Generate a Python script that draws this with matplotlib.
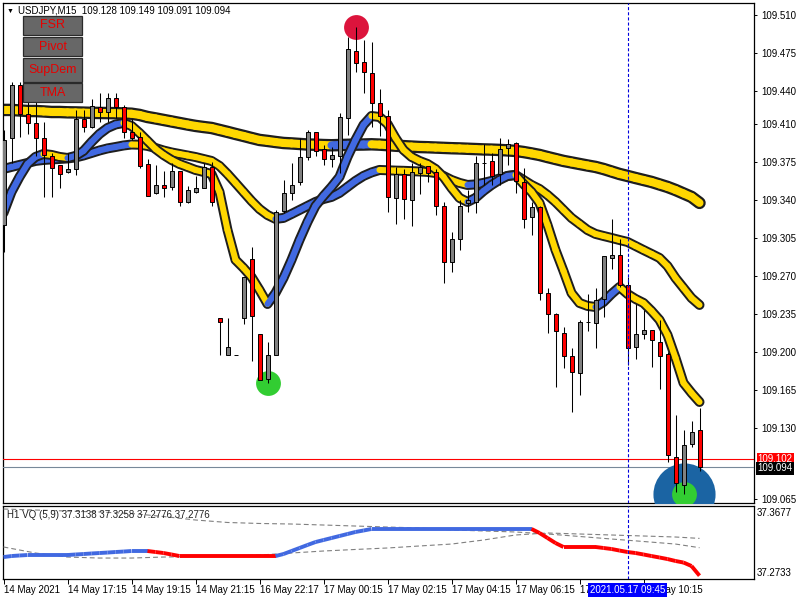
import matplotlib
matplotlib.use("Agg")
import matplotlib.pyplot as plt
from matplotlib.patches import Rectangle
from matplotlib.collections import LineCollection
import numpy as np

plt.rcParams['font.family'] = ['Liberation Sans', 'DejaVu Sans']
plt.rcParams['lines.scale_dashes'] = False

# ---------------- data ----------------
symbol = "USDJPY,M15"
opens = [109.317, 109.397, 109.446, 109.419, 109.411, 109.397, 109.380, 109.372, 109.366, 109.368,
         109.414, 109.407, 109.425, 109.421, 109.434, 109.425, 109.402, 109.398, 109.373, 109.346,
         109.354, 109.352, 109.367, 109.338, 109.347, 109.351, 109.370, 109.231, 109.197, 109.197,
         109.231, 109.286, 109.217, 109.175, 109.197, 109.330, 109.346, 109.356, 109.379, 109.402,
         109.387, 109.378, 109.380, 109.415, 109.477, 109.467, 109.457, 109.429, 109.417, 109.342,
         109.364, 109.340, 109.365, 109.371, 109.366, 109.334, 109.283, 109.304, 109.337, 109.338,
         109.374, 109.376, 109.364, 109.388, 109.392, 109.356, 109.324, 109.333, 109.254, 109.235,
         109.218, 109.196, 109.181, 109.228, 109.227, 109.249, 109.287, 109.289, 109.262, 109.205,
         109.217, 109.220, 109.209, 109.198, 109.104, 109.078, 109.116, 109.128]
highs = [109.404, 109.448, 109.448, 109.446, 109.443, 109.412, 109.383, 109.372, 109.383, 109.423,
         109.423, 109.433, 109.438, 109.438, 109.438, 109.427, 109.414, 109.402, 109.378, 109.372,
         109.367, 109.374, 109.367, 109.353, 109.362, 109.374, 109.375, 109.231, 109.231, 109.197,
         109.269, 109.297, 109.217, 109.209, 109.331, 109.358, 109.374, 109.397, 109.404, 109.402,
         109.390, 109.389, 109.420, 109.490, 109.499, 109.487, 109.485, 109.442, 109.423, 109.370,
         109.368, 109.374, 109.374, 109.371, 109.368, 109.338, 109.310, 109.340, 109.349, 109.380,
         109.391, 109.383, 109.397, 109.396, 109.393, 109.369, 109.338, 109.334, 109.259, 109.236,
         109.223, 109.204, 109.230, 109.253, 109.259, 109.288, 109.322, 109.304, 109.269, 109.244,
         109.239, 109.220, 109.230, 109.200, 109.142, 109.128, 109.137, 109.149]
lows = [109.292, 109.374, 109.398, 109.401, 109.380, 109.343, 109.343, 109.351, 109.365, 109.363,
        109.402, 109.406, 109.412, 109.412, 109.415, 109.397, 109.395, 109.369, 109.344, 109.345,
        109.343, 109.349, 109.334, 109.337, 109.346, 109.351, 109.334, 109.197, 109.197, 109.197,
        109.226, 109.192, 109.174, 109.172, 109.197, 109.328, 109.340, 109.354, 109.377, 109.380,
        109.372, 109.370, 109.365, 109.400, 109.458, 109.438, 109.407, 109.399, 109.329, 109.318,
        109.322, 109.316, 109.345, 109.356, 109.326, 109.264, 109.274, 109.294, 109.329, 109.328,
        109.354, 109.354, 109.354, 109.372, 109.346, 109.314, 109.308, 109.248, 109.218, 109.168,
        109.185, 109.145, 109.161, 109.219, 109.204, 109.232, 109.276, 109.260, 109.188, 109.194,
        109.212, 109.186, 109.166, 109.099, 109.071, 109.070, 109.113, 109.091]
closes = [109.395, 109.446, 109.419, 109.411, 109.397, 109.381, 109.369, 109.364, 109.368, 109.414,
          109.407, 109.426, 109.421, 109.434, 109.425, 109.402, 109.397, 109.371, 109.344, 109.354,
          109.351, 109.367, 109.338, 109.349, 109.351, 109.370, 109.338, 109.228, 109.205, 109.197,
          109.269, 109.233, 109.174, 109.197, 109.329, 109.346, 109.354, 109.379, 109.402, 109.385,
          109.378, 109.381, 109.416, 109.479, 109.466, 109.458, 109.429, 109.417, 109.343, 109.364,
          109.341, 109.366, 109.370, 109.365, 109.334, 109.283, 109.304, 109.334, 109.340, 109.374,
          109.374, 109.362, 109.387, 109.391, 109.357, 109.322, 109.333, 109.254, 109.235, 109.219,
          109.196, 109.182, 109.228, 109.228, 109.248, 109.288, 109.289, 109.262, 109.204, 109.217,
          109.220, 109.211, 109.196, 109.105, 109.080, 109.115, 109.127, 109.094]

tma_slow = [109.4227, 109.4227, 109.4222, 109.4217, 109.4217, 109.4213, 109.4208, 109.4208, 109.4205, 109.4204,
            109.4202, 109.4200, 109.4199, 109.4198, 109.4197, 109.4195, 109.4192, 109.4181, 109.4162, 109.4149,
            109.4135, 109.4121, 109.4107, 109.4093, 109.4080, 109.4070, 109.4061, 109.4043, 109.4025, 109.4006,
            109.3988, 109.3969, 109.3951, 109.3942, 109.3932, 109.3923, 109.3919, 109.3914, 109.3909, 109.3907,
            109.3904, 109.3902, 109.3904, 109.3906, 109.3908, 109.3909, 109.3911, 109.3908, 109.3903, 109.3898,
            109.3894, 109.3890, 109.3886, 109.3884, 109.3881, 109.3878, 109.3875, 109.3873, 109.3870, 109.3867,
            109.3864, 109.3862, 109.3859, 109.3855, 109.3850, 109.3840, 109.3827, 109.3813, 109.3794, 109.3776,
            109.3758, 109.3744, 109.3730, 109.3716, 109.3703, 109.3684, 109.3661, 109.3638, 109.3620, 109.3601,
            109.3583, 109.3565, 109.3542, 109.3519, 109.3491, 109.3459, 109.3427, 109.3372]
tma_mid = [109.3684, 109.3703, 109.3721, 109.3739, 109.3758, 109.3767, 109.3772, 109.3776, 109.3781, 109.3790,
           109.3808, 109.3831, 109.3854, 109.3873, 109.3886, 109.3900, 109.3909, 109.3907, 109.3896, 109.3877,
           109.3854, 109.3836, 109.3822, 109.3808, 109.3794, 109.3776, 109.3758, 109.3712, 109.3638, 109.3556,
           109.3473, 109.3390, 109.3316, 109.3261, 109.3225, 109.3234, 109.3270, 109.3307, 109.3344, 109.3381,
           109.3408, 109.3427, 109.3464, 109.3519, 109.3574, 109.3620, 109.3652, 109.3675, 109.3672, 109.3669,
           109.3667, 109.3664, 109.3661, 109.3657, 109.3647, 109.3620, 109.3583, 109.3556, 109.3537, 109.3542,
           109.3556, 109.3574, 109.3597, 109.3620, 109.3629, 109.3583, 109.3537, 109.3500, 109.3445, 109.3381,
           109.3307, 109.3234, 109.3179, 109.3123, 109.3087, 109.3068, 109.3050, 109.3031, 109.3013, 109.2976,
           109.2939, 109.2903, 109.2866, 109.2792, 109.2682, 109.2590, 109.2498, 109.2434]
tma_fast = [109.3280, 109.3473, 109.3611, 109.3730, 109.3795, 109.3822, 109.3813, 109.3795, 109.3785, 109.3804,
            109.3850, 109.3932, 109.4006, 109.4061, 109.4093, 109.4107, 109.4080, 109.4015, 109.3942, 109.3868,
            109.3813, 109.3767, 109.3730, 109.3703, 109.3675, 109.3657, 109.3638, 109.3473, 109.3123, 109.2848,
            109.2774, 109.2691, 109.2572, 109.2443, 109.2544, 109.2682, 109.2848, 109.3031, 109.3197, 109.3344,
            109.3436, 109.3519, 109.3611, 109.3795, 109.3951, 109.4089, 109.4171, 109.4162, 109.4098, 109.3969,
            109.3859, 109.3795, 109.3758, 109.3730, 109.3684, 109.3611, 109.3509, 109.3418, 109.3381, 109.3418,
            109.3482, 109.3537, 109.3583, 109.3620, 109.3629, 109.3546, 109.3473, 109.3372, 109.3169, 109.2939,
            109.2746, 109.2544, 109.2452, 109.2425, 109.2415, 109.2461, 109.2535, 109.2599, 109.2535, 109.2489,
            109.2452, 109.2379, 109.2296, 109.2158, 109.1947, 109.1717, 109.1625, 109.1542]

sell_signal_bars = [44]
buy_signal_bars = [33, 85]
highlight_bar = 85

vq_main = [37.3017, 37.3030, 37.3037, 37.3043, 37.3043, 37.3043, 37.3043, 37.3043, 37.3043, 37.3050,
           37.3056, 37.3063, 37.3069, 37.3075, 37.3082, 37.3088, 37.3095, 37.3095, 37.3095, 37.3082,
           37.3069, 37.3050, 37.3030, 37.3030, 37.3030, 37.3030, 37.3030, 37.3030, 37.3030, 37.3030,
           37.3030, 37.3030, 37.3030, 37.3030, 37.3030, 37.3056, 37.3095, 37.3134, 37.3173, 37.3211,
           37.3237, 37.3263, 37.3289, 37.3315, 37.3341, 37.3360, 37.3380, 37.3380, 37.3380, 37.3380,
           37.3380, 37.3380, 37.3380, 37.3380, 37.3380, 37.3380, 37.3380, 37.3380, 37.3380, 37.3380,
           37.3380, 37.3380, 37.3380, 37.3380, 37.3380, 37.3380, 37.3380, 37.3328, 37.3263, 37.3198,
           37.3147, 37.3147, 37.3147, 37.3147, 37.3147, 37.3134, 37.3121, 37.3101, 37.3082, 37.3069,
           37.3050, 37.3030, 37.3011, 37.2991, 37.2966, 37.2946, 37.2901, 37.2776]
vq_bars = [0, 4, 8, 12, 16, 20, 24, 28, 32, 36, 40, 44, 48, 52, 56, 60, 64, 68, 72, 76, 80, 84, 87]
vq_level_a = [37.3147, 37.3069, 37.3017, 37.3004, 37.3004, 37.3017, 37.3024, 37.3030, 37.3043, 37.3069,
              37.3095, 37.3115, 37.3134, 37.3160, 37.3185, 37.3237, 37.3302, 37.3328, 37.3315, 37.3302,
              37.3289, 37.3276, 37.3258]
vq_level_b = [37.3638, 37.3625, 37.3612, 37.3599, 37.3580, 37.3541, 37.3496, 37.3464, 37.3451, 37.3444,
              37.3431, 37.3418, 37.3405, 37.3393, 37.3367, 37.3354, 37.3341, 37.3315, 37.3283, 37.3250,
              37.3218, 37.3185, 37.3138]

price_ticks = [109.510, 109.475, 109.440, 109.410, 109.375, 109.340, 109.305, 109.270,
               109.235, 109.200, 109.165, 109.130, 109.065]
time_tick_bars = [0, 8, 16, 24, 32, 40, 48, 56, 64, 72, 80]
time_labels = ["14 May 2021", "14 May 17:15", "14 May 19:15", "14 May 21:15", "16 May 22:17",
               "17 May 00:15", "17 May 02:15", "17 May 04:15", "17 May 06:15", "17 May 08:15",
               "17 May 10:15"]
crosshair_bar = 78
crosshair_label = "2021.05.17 09:45"
alert_level = 109.102
bid_level = 109.094
vq_header = "H1 VQ (5,9) 37.3138 37.3258 37.2776 37.2776"
vq_range = (37.2733, 37.3677)
buttons = ["FSR", "Pivot", "SupDem", "TMA"]

# ---------------- figure ----------------
W, H = 800, 600
fig = plt.figure(figsize=(8, 6), dpi=100)
fig.patch.set_facecolor('white')

def fx(x):
    return x / W

def fy(y):
    return 1 - y / H

ax = fig.add_axes([fx(2.5), fy(503), 751 / W, 500 / H])
sub = fig.add_axes([fx(2.5), fy(579), 751 / W, 73 / H])

XL = (-0.125, 93.75)
ax.set_xlim(*XL)
ax.set_ylim(109.0613, 109.5210)
sub.set_xlim(*XL)
sub.set_ylim(*vq_range)

for a in (ax, sub):
    for s in a.spines.values():
        s.set_color('black')
        s.set_linewidth(0.9)
    a.set_facecolor('white')

# price axis
ax.yaxis.tick_right()
ax.set_yticks(price_ticks)
ax.set_yticklabels([f"{v:.3f}" for v in price_ticks])
ax.tick_params(axis='y', direction='out', length=2.5, width=0.7, pad=3, labelsize=7, colors='black')
ax.set_xticks([])

sub.set_yticks([])
sub.set_xticks(time_tick_bars)
sub.set_xticklabels([])
sub.tick_params(axis='x', direction='out', length=3.5, width=0.7)

# TMA bands
YEL = '#FFD700'
BLU = '#4169E1'
OUT = '#1e1e1e'

def draw_tma(vals, w_out, w_in, z):
    v = np.asarray(vals)
    x = np.arange(len(v))
    ax.plot(x, v, color=OUT, lw=w_out, solid_capstyle='round', solid_joinstyle='round', zorder=z)
    segs = [[(i, v[i]), (i + 1, v[i + 1])] for i in range(len(v) - 1)]
    cols = [BLU if v[i + 1] > v[i] else YEL for i in range(len(v) - 1)]
    lc = LineCollection(segs, colors=cols, linewidths=w_in, capstyle='round', joinstyle='round',
                        zorder=z + 0.1)
    ax.add_collection(lc)

draw_tma(tma_slow, 9.0, 5.8, 2)
draw_tma(tma_mid, 7.2, 4.4, 2.2)
draw_tma(tma_fast, 7.2, 4.4, 2.4)

# horizontal lines
ax.axhline(alert_level, color='#FF0000', lw=0.8, zorder=2.8)
ax.axhline(bid_level, color='#778899', lw=0.8, zorder=2.8)

# signal circles
ax.scatter([highlight_bar], [lows[highlight_bar]], s=2000, color='#1B64A3', zorder=3, linewidths=0)
ax.scatter(sell_signal_bars, [highs[i] for i in sell_signal_bars], s=320, color='#DC143C',
           zorder=3.2, linewidths=0)
ax.scatter(buy_signal_bars, [lows[i] for i in buy_signal_bars], s=320, color='#32CD32',
           zorder=3.2, linewidths=0)

# candles
n = len(opens)
xs = np.arange(n)
ax.vlines(xs, lows, highs, color='black', lw=0.75, zorder=5)
bw = 0.5
for i in range(n):
    o, c = opens[i], closes[i]
    if c > o:
        fc = '#808080'
    elif c < o:
        fc = '#FF0000'
    else:
        fc = 'black'
    ax.add_patch(Rectangle((i - bw / 2, min(o, c)), bw, abs(c - o), facecolor=fc,
                           edgecolor='black', lw=0.7, zorder=6))

# crosshair
for a in (ax, sub):
    a.axvline(crosshair_bar, color='#0000DD', lw=0.8, ls=(0, (2.2, 1.5)), zorder=15)

# price boxes on the right axis
ax.annotate(f"{alert_level:.3f}", xy=(1, alert_level), xycoords=('axes fraction', 'data'),
            xytext=(3, 0), textcoords='offset points', ha='left', va='center', fontsize=7,
            color='white', annotation_clip=False, zorder=20,
            bbox=dict(boxstyle='square,pad=0.12', fc='#FF0000', ec='none'))
ax.annotate(f"{bid_level:.3f}", xy=(1, bid_level), xycoords=('axes fraction', 'data'),
            xytext=(3, -0.5), textcoords='offset points', ha='left', va='center', fontsize=7,
            color='white', annotation_clip=False, zorder=20,
            bbox=dict(boxstyle='square,pad=0.15', fc='black', ec='none'))

# VQ sub-panel
vm = np.asarray(vq_main)
segs, cols = [], []
state = BLU
for i in range(len(vm) - 1):
    if vm[i + 1] > vm[i]:
        state = '#4169E1'
    elif vm[i + 1] < vm[i]:
        state = '#FF0000'
    segs.append([(i, vm[i]), (i + 1, vm[i + 1])])
    cols.append(state)
sub.add_collection(LineCollection(segs, colors=cols, linewidths=2.8, capstyle='butt', zorder=4))
sub.plot(vq_bars, vq_level_a, color='#808080', lw=0.8, ls=(0, (3.5, 2.2)), zorder=3)
sub.plot(vq_bars, vq_level_b, color='#808080', lw=0.8, ls=(0, (3.5, 2.2)), zorder=3)
fig.text(fx(7), fy(515), vq_header, fontsize=7, color='#222222', ha='left', va='center', zorder=6)

fig.text(fx(757), fy(508), f"{vq_range[1]:.4f}", fontsize=7, ha='left', va='top')
fig.text(fx(757), fy(578), f"{vq_range[0]:.4f}", fontsize=7, ha='left', va='bottom')

# time labels
for b, lab in zip(time_tick_bars, time_labels):
    sub.annotate(lab, xy=(b, 0), xycoords=('data', 'axes fraction'), xytext=(0.6, -8),
                 textcoords='offset points', ha='left', va='center', fontsize=7,
                 annotation_clip=False, zorder=5)
sub.annotate(crosshair_label, xy=(crosshair_bar, 0), xycoords=('data', 'axes fraction'),
             xytext=(0, -8), textcoords='offset points', ha='center', va='center', fontsize=7,
             color='white', annotation_clip=False, zorder=30,
             bbox=dict(boxstyle='square,pad=0.22', fc='#0000FF', ec='none'))

# header
fig.text(fx(7), fy(11), "\u25BC", fontsize=5, ha='left', va='center', color='black')
fig.text(fx(18), fy(10.5), f"{symbol}  {opens[-1]:.3f} {highs[-1]:.3f} {lows[-1]:.3f} {closes[-1]:.3f}",
         fontsize=7, ha='left', va='center', color='black')

# buttons
btn_boxes = [(16, 35), (37, 56), (58, 82), (83, 102)]
for lab, (y0, y1) in zip(buttons, btn_boxes):
    fig.add_artist(Rectangle((fx(23), fy(y1)), 59 / W, (y1 - y0) / H, transform=fig.transFigure,
                             facecolor='#676767', edgecolor='#2a2a2a', lw=0.9, zorder=40))
    fig.text(fx(52.5), fy((y0 + y1) / 2), lab, fontsize=9, color='#E60000', ha='center',
             va='center', zorder=41)

fig.savefig("out.png", dpi=100, facecolor='white')
